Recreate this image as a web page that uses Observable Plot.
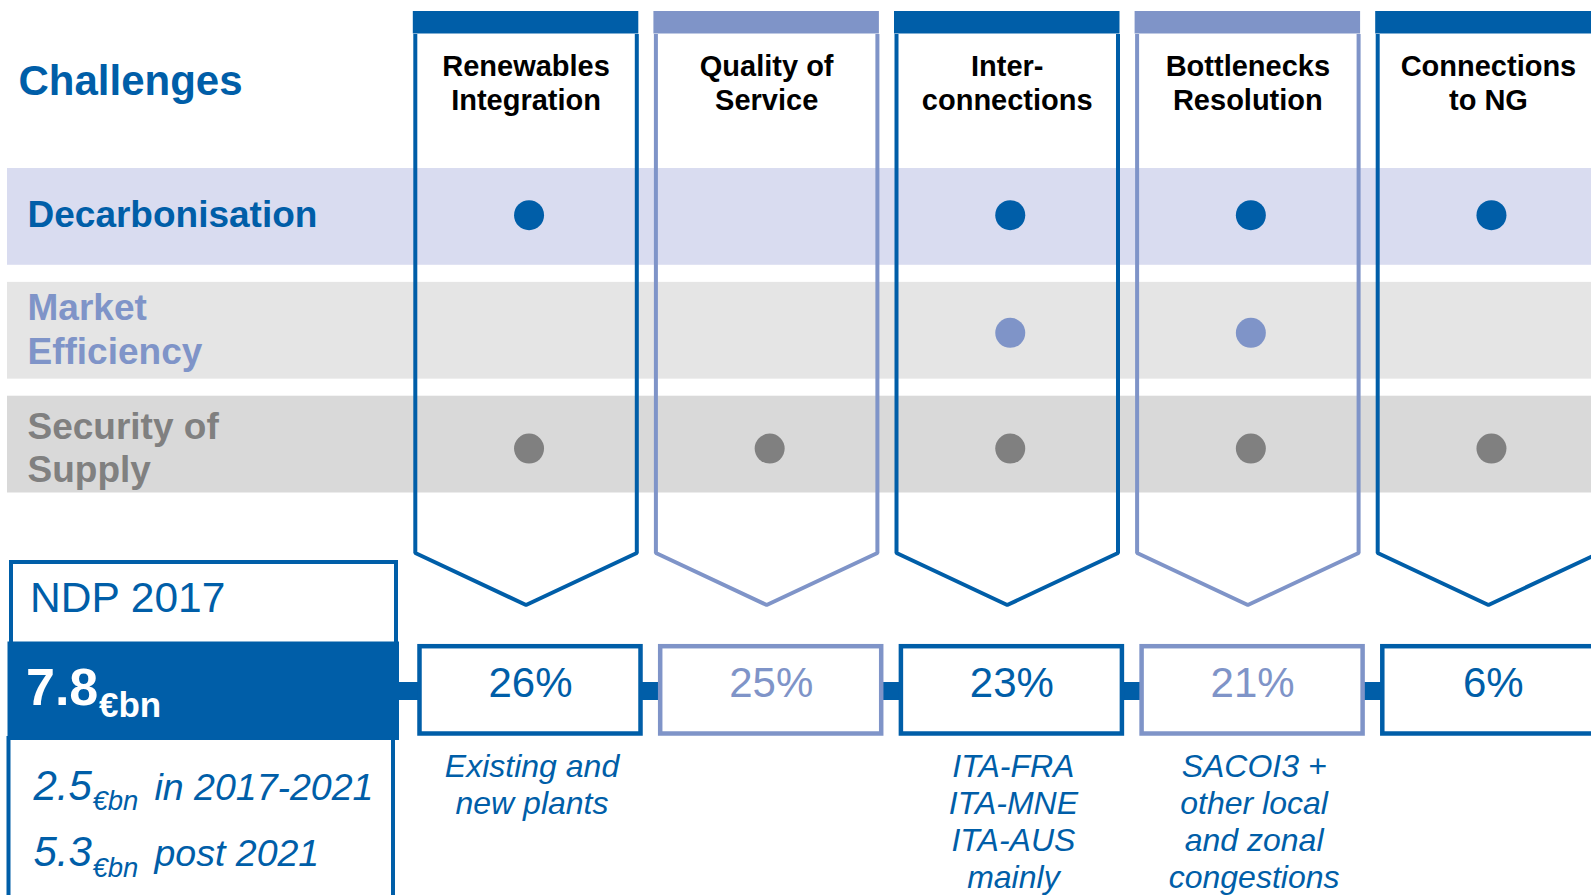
<!DOCTYPE html>
<html><head><meta charset="utf-8">
<script src="https://cdn.jsdelivr.net/npm/d3@7"></script>
<script src="https://cdn.jsdelivr.net/npm/@observablehq/plot@0.6"></script>
<style>
html,body{margin:0;padding:0;background:#fff;}
#chart{width:1591px;height:895px;overflow:hidden;}
svg{display:block;}
</style></head><body><div id="chart"></div>
<script>
// ---------- data ----------
const challenges = ["Renewables\nIntegration", "Quality of\nService", "Inter-\nconnections", "Bottlenecks\nResolution", "Connections\nto NG"];
const drivers = ["Decarbonisation", "Market\nEfficiency", "Security of\nSupply"];
const decarbonisation = [1, 0, 1, 1, 1];
const marketEfficiency = [0, 0, 1, 1, 0];
const securityOfSupply = [1, 1, 1, 1, 1];
const shares = [26, 25, 23, 21, 6];
const projects = ["Existing and\nnew plants", "", "ITA-FRA\nITA-MNE\nITA-AUS\nmainly", "SACOI3 +\nother local\nand zonal\ncongestions", ""];
const planTitle = "NDP 2017";
const totalInvestment = 7.8;
const unit = "€bn";
const splitValues = [2.5, 5.3];
const splitPeriods = ["in 2017-2021", "post 2021"];
const headerTitle = "Challenges";

// ---------- styles / layout ----------
const W = 1591, H = 895;
const FONT = '"Liberation Sans", Arial, sans-serif';
const DARK = "#005EA8", LIGHT = "#7F94C8", GREY = "#808080";
const colColors = [DARK, LIGHT, DARK, LIGHT, DARK];
const rowFills = ["#D9DCF0", "#E5E5E5", "#D9D9D9"];
const rowColors = [DARK, LIGHT, GREY];
const rowLabelDy = [-4, -2.5, 2];
const rowDotDy = [-1.7, 2.1, 4];
const matrix = [decarbonisation, marketEfficiency, securityOfSupply];

const colBand = Plot.scale({x: {type: "band", domain: challenges, range: [405.25, 1608.25], paddingInner: 0.0794, paddingOuter: 0.0397}});
const boxBand = Plot.scale({x: {type: "band", domain: challenges, range: [409.65, 1613.15], paddingInner: 0.0818, paddingOuter: 0.0409}});
const rowBand = Plot.scale({y: {type: "band", domain: drivers, range: [168, 492.5], paddingInner: 0.15, paddingOuter: 0}});

const cols = challenges.map((c, i) => {
  const left = colBand.apply(c);
  return {name: c, i, left, right: left + colBand.bandwidth, center: left + colBand.bandwidth / 2, color: colColors[i]};
});
const boxes = challenges.map((c, i) => {
  const left = boxBand.apply(c);
  return {name: c, i, left, right: left + boxBand.bandwidth, center: left + boxBand.bandwidth / 2, color: colColors[i], share: shares[i], project: projects[i]};
});
const rows = drivers.map((d, j) => {
  const top = rowBand.apply(d);
  return {name: d, j, top, bottom: top + rowBand.bandwidth, center: top + rowBand.bandwidth / 2, fill: rowFills[j], color: rowColors[j]};
});

const BAR_TOP = 11, BAR_BOTTOM = 33.5, SIDE_Y = 552.5, TIP_Y = 604.5;
const chevrons = cols.flatMap(c => [
  {col: c.i, color: c.color, x: c.left, y: BAR_BOTTOM},
  {col: c.i, color: c.color, x: c.left, y: SIDE_Y},
  {col: c.i, color: c.color, x: c.center, y: TIP_Y},
  {col: c.i, color: c.color, x: c.right, y: SIDE_Y},
  {col: c.i, color: c.color, x: c.right, y: BAR_BOTTOM}
]);

const dots = [];
matrix.forEach((arr, j) => arr.forEach((v, i) => { if (v) dots.push({x: cols[i].center + 3, y: rows[j].center + rowDotDy[j], color: rowColors[j]}); }));

const captionLH = 37.2;
const captions = boxes.filter(b => b.project).map(b => ({x: b.center + 1.5, y: 776 + (b.project.split("\n").length - 1) * captionLH, text: b.project}));

const k = (v) => () => v;

const chart = Plot.plot({
  width: W, height: H, margin: 0,
  x: {domain: [0, W], range: [0, W], axis: null},
  y: {domain: [0, H], range: [0, H], axis: null},
  style: {fontFamily: FONT, background: "white", overflow: "hidden"},
  marks: [
    // driver bands
    Plot.rect(rows, {x1: k(7), x2: k(W), y1: "top", y2: "bottom", fill: "fill"}),
    // chevron outlines
    Plot.line(chevrons, {x: "x", y: "y", z: "col", stroke: "color", strokeWidth: 4, strokeLinejoin: "miter", strokeLinecap: "butt"}),
    // top bars
    Plot.rect(cols, {x1: d => d.left - 2, x2: d => d.right + 2, y1: k(BAR_TOP), y2: k(BAR_BOTTOM), fill: "color"}),
    // column headers
    Plot.text(cols, {x: "center", y: k(109.5), text: "name", lineAnchor: "bottom", lineHeight: 1.19, fontSize: 29, fontWeight: "bold", fill: "#000"}),
    // title
    Plot.text([headerTitle], {x: k(18), y: k(94), text: d => d, textAnchor: "start", lineAnchor: "bottom", fontSize: 42, fontWeight: "bold", fill: DARK}),
    // row labels
    Plot.text(rows, {x: k(27), y: d => d.center + rowLabelDy[d.j], text: "name", textAnchor: "start", lineAnchor: "middle", lineHeight: 1.17, fontSize: 37, fontWeight: "bold", fill: "color"}),
    // dots
    Plot.dot(dots, {x: "x", y: "y", r: 15, fill: "color", stroke: null}),
    // connector bar
    Plot.rect([0], {x1: k(395), x2: k(W), y1: k(682), y2: k(700), fill: DARK}),
    // NDP block
    Plot.rect([0], {x1: k(11), x2: k(396), y1: k(562), y2: k(660), fill: "white", stroke: DARK, strokeWidth: 4}),
    Plot.rect([0], {x1: k(8.5), x2: k(393), y1: k(738), y2: k(920), fill: "white", stroke: DARK, strokeWidth: 4}),
    Plot.rect([0], {x1: k(7.5), x2: k(399), y1: k(641.5), y2: k(740), fill: DARK}),
    Plot.text([planTitle], {x: k(29.5), y: k(611.5), text: d => d, textAnchor: "start", lineAnchor: "bottom", fontSize: 42.5, fill: DARK}),
    Plot.text([totalInvestment], {x: k(25.5), y: k(704), text: d => d.toFixed(1), textAnchor: "start", lineAnchor: "bottom", fontSize: 52, fontWeight: "bold", fill: "white"}),
    Plot.text([unit], {x: k(98.5), y: k(716.7), text: d => d, textAnchor: "start", lineAnchor: "bottom", fontSize: 35, fontWeight: "bold", fill: "white"}),
    Plot.text(splitValues, {x: k(33), y: (d, i) => [799.5, 865.5][i], text: d => d.toFixed(1), textAnchor: "start", lineAnchor: "bottom", fontSize: 42, fontStyle: "italic", fill: DARK}),
    Plot.text(splitValues, {x: k(92), y: (d, i) => [809.3, 876][i], text: () => unit, textAnchor: "start", lineAnchor: "bottom", fontSize: 27.5, fontStyle: "italic", fill: DARK}),
    Plot.text(splitPeriods, {x: k(154), y: (d, i) => [799.5, 865.5][i], text: d => d, textAnchor: "start", lineAnchor: "bottom", fontSize: 37.5, fontStyle: "italic", fill: DARK}),
    // percentage boxes
    Plot.rect(boxes, {x1: "left", x2: "right", y1: k(646.2), y2: k(733.5), fill: "white", stroke: "color", strokeWidth: 4.5}),
    Plot.text(boxes, {x: "center", y: k(696.7), text: d => `${d.share}%`, lineAnchor: "bottom", fontSize: 42, fill: "color"}),
    // captions
    Plot.text(captions, {x: "x", y: "y", text: "text", lineAnchor: "bottom", lineHeight: captionLH / 32, fontSize: 32, fontStyle: "italic", fill: DARK})
  ]
});
document.getElementById("chart").appendChild(chart);
</script>
</body></html>
